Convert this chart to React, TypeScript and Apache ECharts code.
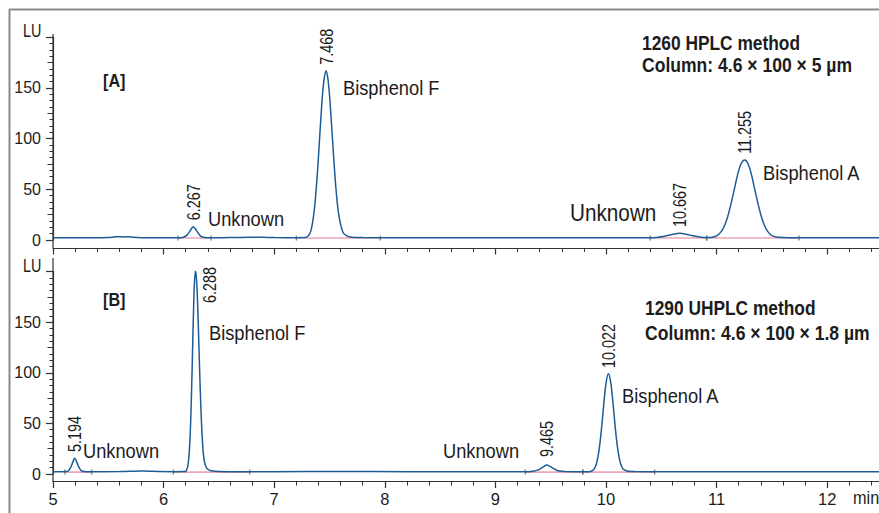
import React, { useEffect, useRef } from "react";
import * as echarts from "echarts";

const FONT = "'Liberation Sans', Arial, sans-serif";
const TEXT = "#1c1c1c";
const BLUE = "#1d5c96";
const PINK = "#eaa6b8";

// Trace A: 1260 HPLC (time min, LU)
const traceA: [number, number][] = [
  [5.0, 2.2], [5.2, 2.3], [5.4, 2.2], [5.5, 2.5], [5.56, 3.1], [5.6, 3.3], [5.64, 3.0], [5.68, 3.2], [5.72, 2.7], [5.8, 2.3],
  [6.0, 2.2], [6.15, 2.3], [6.17, 2.4], [6.19, 3.2], [6.21, 4.8], [6.23, 7.5], [6.25, 10.8], [6.267, 13.1], [6.285, 11.3],
  [6.305, 8], [6.325, 5], [6.345, 3.2], [6.37, 2.5], [6.45, 2.3], [6.6, 2.4], [6.8, 2.8], [6.9, 2.7], [7.0, 2.4], [7.2, 2.3],
  [7.28, 2.4], [7.31, 4.5], [7.33, 8.5], [7.348, 18], [7.363, 30], [7.378, 48], [7.393, 70], [7.408, 96], [7.423, 122],
  [7.438, 145], [7.453, 160], [7.468, 167], [7.483, 161], [7.498, 146], [7.513, 123], [7.528, 98], [7.543, 73], [7.558, 51],
  [7.573, 34], [7.588, 22], [7.608, 12], [7.628, 6.5], [7.66, 3.8], [7.7, 2.8], [7.8, 2.4], [8.2, 2.3], [8.8, 2.2],
  [9.4, 2.2], [10.0, 2.3], [10.4, 2.3], [10.47, 2.8], [10.53, 3.8], [10.58, 5.0], [10.62, 6.0], [10.667, 6.6], [10.71, 6.0],
  [10.76, 4.8], [10.81, 3.6], [10.86, 2.8], [10.92, 2.5], [10.96, 2.7], [11.0, 4.1], [11.04, 8], [11.07, 13.8], [11.1, 23],
  [11.13, 35.5], [11.16, 50], [11.19, 64.5], [11.22, 75], [11.255, 79], [11.285, 75], [11.315, 64.5], [11.345, 50],
  [11.375, 35.5], [11.405, 23], [11.435, 13.8], [11.465, 8], [11.505, 4.1], [11.56, 2.7], [11.65, 2.3], [12.2, 2.2], [13.0, 2.2],
];

// Trace B: 1290 UHPLC
const traceB: [number, number][] = [
  [5.0, 2.3], [5.08, 2.3], [5.12, 2.4], [5.14, 3.2], [5.16, 6.5], [5.175, 10.5], [5.185, 13.5], [5.194, 15.5], [5.205, 14.3],
  [5.22, 10.5], [5.235, 6.5], [5.25, 4], [5.27, 2.7], [5.3, 2.3], [5.6, 2.4], [5.75, 2.8], [5.82, 3.0], [5.9, 2.6], [6.1, 2.3],
  [6.185, 2.4], [6.203, 3], [6.218, 7.3], [6.228, 16], [6.238, 33], [6.248, 63], [6.258, 104], [6.268, 150], [6.278, 187],
  [6.288, 201], [6.3, 188], [6.313, 150], [6.326, 102], [6.338, 63], [6.353, 29], [6.368, 13], [6.388, 6], [6.418, 3.6],
  [6.47, 2.6], [6.6, 2.3], [7.0, 2.3], [7.6, 2.4], [8.2, 2.3], [8.8, 2.3], [9.3, 2.3], [9.35, 2.9], [9.38, 3.8], [9.41, 5.4],
  [9.44, 7.6], [9.465, 8.8], [9.49, 7.8], [9.52, 5.8], [9.55, 4], [9.58, 2.9], [9.63, 2.4], [9.85, 2.3], [9.88, 3.6],
  [9.902, 6.8], [9.922, 14], [9.942, 27.6], [9.962, 47.8], [9.982, 71.5], [10.002, 91], [10.022, 99], [10.042, 91],
  [10.062, 71.5], [10.082, 47.8], [10.102, 28], [10.122, 14.5], [10.142, 7.2], [10.165, 4], [10.2, 2.8], [10.26, 2.4],
  [10.6, 2.3], [11.2, 2.3], [12.0, 2.3], [13.0, 2.3],
];

// Integration baselines [start, end] (min)
const baselinesA: [number, number][] = [[6.13, 6.43], [7.2, 7.96], [10.4, 10.91], [10.91, 11.745]];
const baselinesB: [number, number][] = [[5.108, 5.35], [6.088, 6.78], [9.27, 9.79], [9.79, 10.44]];
const baselineLevel = 1.9;

// Retention-time labels: peak RT and label anchor height (LU)
const peaksA = [6.267, 7.468, 10.667, 11.255];
const peakLabelYA = [19.5, 173, 12.8, 85];
const peaksB = [5.194, 6.288, 9.465, 10.022];
const peakLabelYB = [21.7, 169, 16.8, 104.7];
const peakLabelDxB = [0, 14, 0, 0];

// Compound names and anchors [time, LU]
const namesA = ["Unknown", "Bisphenol F", "Unknown", "Bisphenol A"];
const nameAnchorA: [number, number][] = [[6.401, 20.7], [7.622, 150], [9.675, 26.6], [11.42, 67]];
const nameSizeA = [21, 21, 23, 21];
const namesB = ["Unknown", "Bisphenol F", "Unknown", "Bisphenol A"];
const nameAnchorB: [number, number][] = [[5.271, 22.7], [6.41, 140], [8.526, 22.7], [10.145, 78]];
const nameSizeB = [21, 21, 21, 21];

const yTicks = [0, 50, 100, 150, 200];
const xTicks = [5, 6, 7, 8, 9, 10, 11, 12];

export default function App() {
  const ref = useRef<HTMLDivElement>(null);
  useEffect(() => {
    if (!ref.current) return;
    const chart = echarts.init(ref.current, undefined, { renderer: "svg" });

    const grids = [
      { left: 53, top: 37.3, width: 884.8, height: 202.7, outerBoundsMode: "none", containLabel: false },
      { left: 53, top: 271.6, width: 884.8, height: 202.4, outerBoundsMode: "none", containLabel: false },
    ];

    const xAxis = [0, 1].map((g) => ({
      type: "value",
      gridIndex: g,
      min: xTicks[0],
      max: 13,
      interval: 1,
      offset: g === 0 ? 8 : 7.5,
      axisLine: { show: true, onZero: false, lineStyle: { color: "#333", width: 1.2 } },
      axisTick: { show: true, inside: false, length: 6.5, lineStyle: { color: "#333", width: 1.2 } },
      minorTick: { show: true, splitNumber: 5, length: 4, lineStyle: { color: "#333", width: 1 } },
      splitLine: { show: false },
      axisLabel: {
        show: g === 1,
        margin: 9,
        fontSize: 16.5,
        fontFamily: FONT,
        color: TEXT,
        formatter: (v: number) => (xTicks.includes(v) ? String(v) : ""),
      },
    }));

    const yAxis: any[] = [];
    [0, 1].forEach((g) => {
      yAxis.push({
        type: "value",
        gridIndex: g,
        min: yTicks[0],
        max: yTicks[yTicks.length - 1],
        interval: 50,
        position: "left",
        axisLine: { show: true, lineStyle: { color: "#333", width: 1.2 } },
        axisTick: { show: true, length: 7, lineStyle: { color: "#333", width: 1.2 } },
        minorTick: { show: true, splitNumber: 8, length: 3.5, lineStyle: { color: "#333", width: 1 } },
        splitLine: { show: false },
        axisLabel: {
          margin: 12,
          fontSize: 16,
          fontFamily: FONT,
          color: TEXT,
          formatter: (v: number) => (v === 200 ? "" : String(v)),
        },
      });
      yAxis.push({
        type: "value",
        gridIndex: g,
        min: 0,
        max: 200,
        interval: 25,
        position: "left",
        axisLine: { show: false },
        axisTick: { show: true, length: 5.5, lineStyle: { color: "#333", width: 1 } },
        splitLine: { show: false },
        axisLabel: { show: false },
      });
    });

    const series: any[] = [];
    const addPanel = (
      g: number,
      trace: [number, number][],
      baselines: [number, number][],
      peaks: number[],
      peakY: number[],
      peakDx: number[],
      names: string[],
      anchors: [number, number][],
      sizes: number[]
    ) => {
      const yi = g * 2;
      baselines.forEach((b) => {
        series.push({
          type: "line",
          xAxisIndex: g,
          yAxisIndex: yi,
          data: [[b[0], baselineLevel], [b[1], baselineLevel]],
          showSymbol: false,
          lineStyle: { color: PINK, width: 1.6 },
          z: 1,
          silent: true,
        });
      });
      series.push({
        type: "scatter",
        xAxisIndex: g,
        yAxisIndex: yi,
        symbol: "rect",
        symbolSize: [1.4, 5],
        itemStyle: { color: "#666" },
        data: baselines.flatMap((b) => [[b[0], baselineLevel], [b[1], baselineLevel]]),
        z: 2,
        silent: true,
      });
      series.push({
        type: "line",
        xAxisIndex: g,
        yAxisIndex: yi,
        data: trace,
        showSymbol: false,
        smooth: 0.35,
        lineStyle: { color: BLUE, width: 1.5 },
        z: 3,
        silent: true,
      });
      // retention-time labels (rotated)
      series.push({
        type: "custom",
        xAxisIndex: g,
        yAxisIndex: yi,
        silent: true,
        clip: false,
        z: 4,
        data: peaks.map((p, i) => [p, peakY[i]]),
        renderItem: (params: any, api: any) => {
          const i = params.dataIndex;
          const pt = api.coord([api.value(0), api.value(1)]);
          return {
            type: "text",
            x: pt[0] + peakDx[i],
            y: pt[1],
            rotation: Math.PI / 2,
            scaleX: 0.8,
            style: {
              text: peaks[i].toFixed(3),
              fontSize: 18,
              fontFamily: FONT,
              fill: TEXT,
              align: "left",
              verticalAlign: "middle",
            },
          };
        },
      });
      // compound names
      series.push({
        type: "custom",
        xAxisIndex: g,
        yAxisIndex: yi,
        silent: true,
        clip: false,
        z: 4,
        data: anchors.map((a) => [a[0], a[1]]),
        renderItem: (params: any, api: any) => {
          const i = params.dataIndex;
          const pt = api.coord([api.value(0), api.value(1)]);
          return {
            type: "text",
            x: pt[0],
            y: pt[1],
            scaleX: sizes[i] > 21 ? 0.9 : 0.87,
            style: {
              text: names[i],
              fontSize: sizes[i],
              fontFamily: FONT,
              fill: TEXT,
              align: "left",
              verticalAlign: "middle",
            },
          };
        },
      });
    };
    addPanel(0, traceA, baselinesA, peaksA, peakLabelYA, [0, 0, 0, 0], namesA, nameAnchorA, nameSizeA);
    addPanel(1, traceB, baselinesB, peaksB, peakLabelYB, peakLabelDxB, namesB, nameAnchorB, nameSizeB);

    const txt = (text: string, x: number, y: number, size: number, sx: number, bold = false) => ({
      type: "text",
      x,
      y,
      scaleX: sx,
      silent: true,
      style: {
        text,
        fill: TEXT,
        fontSize: size,
        fontFamily: FONT,
        fontWeight: bold ? "bold" : "normal",
        align: "left",
        verticalAlign: "middle",
      },
    });

    chart.setOption({
      animation: false,
      backgroundColor: "#fff",
      grid: grids,
      xAxis,
      yAxis,
      series,
      graphic: [
        { type: "line", silent: true, shape: { x1: 9, y1: 9.5, x2: 879, y2: 9.5 }, style: { stroke: "#8a8a8a", lineWidth: 2 } },
        { type: "line", silent: true, shape: { x1: 9.5, y1: 9, x2: 9.5, y2: 513 }, style: { stroke: "#8a8a8a", lineWidth: 2 } },
        { type: "line", silent: true, shape: { x1: 53, y1: 34, x2: 53, y2: 248 }, style: { stroke: "#333", lineWidth: 1.2 } },
        { type: "line", silent: true, shape: { x1: 53, y1: 258, x2: 53, y2: 482 }, style: { stroke: "#333", lineWidth: 1.2 } },
        txt("LU", 23, 30.5, 18, 0.8),
        txt("LU", 23, 265, 18, 0.8),
        txt("[A]", 103, 81.5, 18, 0.9, true),
        txt("[B]", 103, 300, 18, 0.9, true),
        txt("1260 HPLC method", 642, 43, 19.5, 0.89, true),
        txt("Column: 4.6 × 100 × 5 µm", 642, 65, 19.5, 0.9, true),
        txt("1290 UHPLC method", 645, 308, 19.5, 0.89, true),
        txt("Column: 4.6 × 100 × 1.8 µm", 645, 333, 19.5, 0.9, true),
        txt("min", 853, 497.5, 18.5, 0.88),
      ],
    });
    return () => chart.dispose();
  }, []);
  return <div ref={ref} style={{ width: 879, height: 513, position: "absolute", left: 0, top: 0 }} />;
}
